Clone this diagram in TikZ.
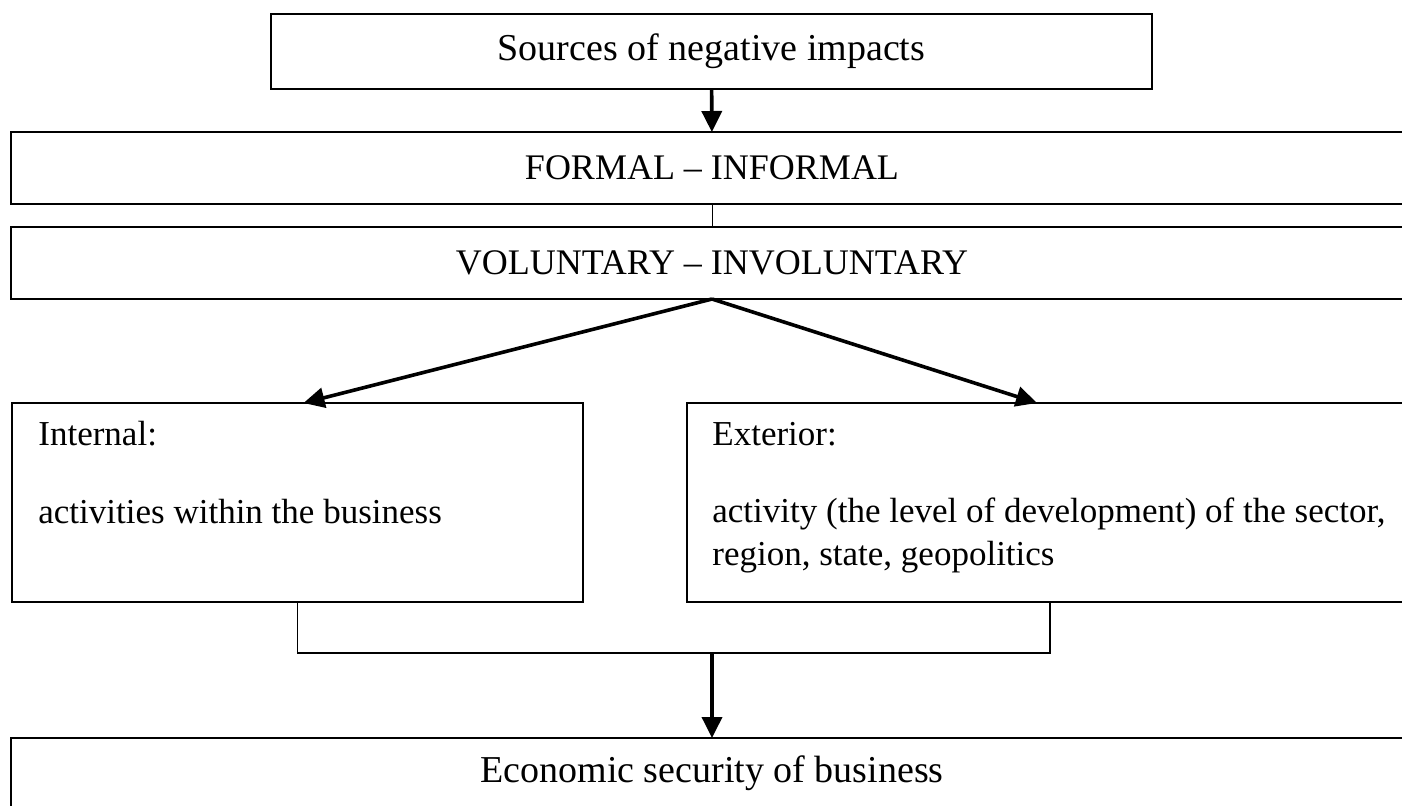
\documentclass[tikz,border=0pt]{standalone}
\usepackage{fontspec}
\setmainfont{Liberation Serif}
\usetikzlibrary{arrows.meta}

\tikzset{
  box/.style={draw, line width=1pt, rectangle, inner sep=0pt, outer sep=0pt},
  flow/.style={line width=1.8pt, -{Triangle[length=10.5pt,width=10pt]}},
  link/.style={line width=0.9pt},
  txt/.style={inner sep=0pt, anchor=base west, align=left,
    font=\fontsize{17.5}{21.5}\selectfont}
}

\begin{document}
\begin{tikzpicture}[x=0.5pt, y=-0.5pt]
\useasboundingbox (0,0) rectangle (1402,805);
\clip (0,0) rectangle (1402,805);
\foreach \nm/\pos/\w/\h/\fs/\l in{
top/{(711.5,51.5)}/440.5pt/37.5pt/19/{Sources of negative impacts},
formal/{(712,168)}/701pt/36pt/18/{FORMAL -- INFORMAL},
volunt/{(712,263)}/701pt/36pt/18/{VOLUNTARY -- INVOLUNTARY},
internal/{(297.5,502.5)}/285.5pt/99.5pt/17.5/{},
exterior/{(1050,502.5)}/363pt/99.5pt/17.5/{},
econ/{(712,773)}/701pt/35pt/19/{Economic security of business}
}
{
        \node[box, minimum width=\w, minimum height=\h,
              font=\fontsize{\fs}{22}\selectfont] (\nm) at \pos {\l};
    }
% text of the two lower boxes
\node[txt] (intname) at ([shift={(26,42)}]internal.north west) {Internal:};
\node[txt] (inttext) at ([shift={(26,120)}]internal.north west) {activities within the business};
\node[txt] (extname) at ([shift={(25,42)}]exterior.north west) {Exterior:};
\node[txt] (exttext) at ([shift={(25,162)}]exterior.north west)
  {activity (the level of development) of the sector,\\region, state, geopolitics};
\coordinate (join) at (712,653);
\draw[flow] (top) -- (formal);
\draw[line width=0.5pt] (formal) -- (volunt);
\draw[flow] (volunt.south) -- ([xshift=3pt]internal.north);
\draw[flow] (volunt.south) -- ([xshift=-6.5pt]exterior.north);
\draw[link] (internal.south) |- (join) -| (exterior.south);
\draw[flow] (join) -- (econ);
\end{tikzpicture}
\end{document}
